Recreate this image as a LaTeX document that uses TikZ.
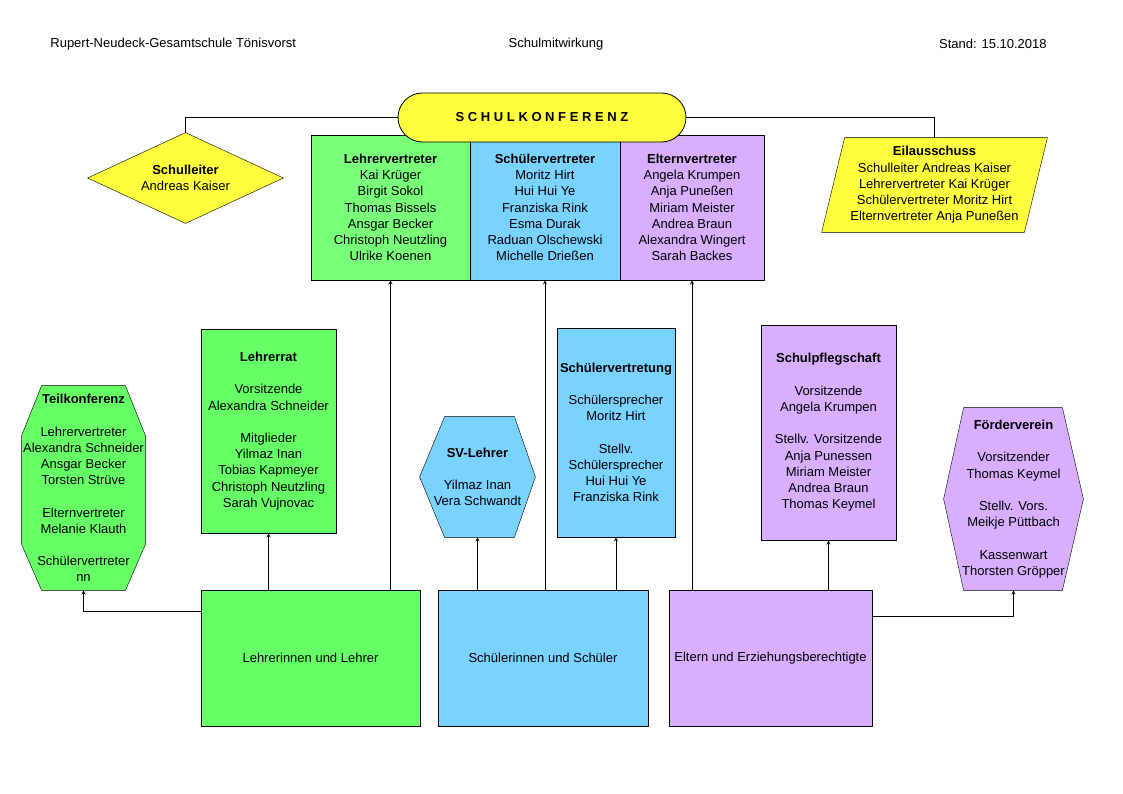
\documentclass[tikz,border=0pt]{standalone}
\usepackage{fontspec}
\setmainfont{Liberation Sans}
\usetikzlibrary{arrows, backgrounds}
\definecolor{gruen}{RGB}{102,255,102}
\definecolor{hellgruen}{RGB}{122,255,122}
\definecolor{blau}{RGB}{122,210,255}
\definecolor{lila}{RGB}{216,174,255}
\definecolor{gelb}{RGB}{255,255,64}
\tikzstyle{arrow} = [->,>=stealth]
\tikzstyle{box} = [draw, align=center, inner sep=0pt]
\tikzstyle{form} = [align=center, inner sep=0pt]
\tikzstyle{kopf} = [inner sep=0pt]

\begin{document}
\begin{tikzpicture}[x=1pt, y=-1pt, line width=0.8pt, font={\fontsize{13}{16.2}\selectfont}]
\useasboundingbox (0,0) rectangle (1123,794);

% Kopfzeile
\node[kopf, anchor=west] (schule) at (50,44) {Rupert-Neudeck-Gesamtschule Tönisvorst};
\node[kopf] (titel) at (556,44) {Schulmitwirkung};
\node[kopf, anchor=east] (stand) at (1047,44) {Stand: 15.10.2018};

% Schulkonferenz
\node[box, fill=hellgruen, minimum width=159pt, minimum height=145pt] (lv) at (390.5,207.5)
  {\textbf{Lehrervertreter}\\Kai Krüger\\Birgit Sokol\\Thomas Bissels\\Ansgar Becker\\Christoph Neutzling\\Ulrike Koenen};
\node[box, fill=blau, minimum width=150pt, minimum height=145pt] (sv) at (545,207.5)
  {\textbf{Schülervertreter}\\Moritz Hirt\\Hui Hui Ye\\Franziska Rink\\Esma Durak\\Raduan Olschewski\\Michelle Drießen};
\node[box, fill=lila, minimum width=144pt, minimum height=145pt] (ev) at (692,207.5)
  {\textbf{Elternvertreter}\\Angela Krumpen\\Anja Puneßen\\Miriam Meister\\Andrea Braun\\Alexandra Wingert\\Sarah Backes};
\node[box, fill=gelb, rounded corners=24.5pt, minimum width=288pt, minimum height=49pt] (sk) at (542,117.5)
  {\textbf{S C H U L K O N F E R E N Z}};

\node[form, minimum width=195pt, minimum height=90pt] (sl) at (185.5,178)
  {\textbf{Schulleiter}\\Andreas Kaiser};
\node[form, minimum width=225pt, minimum height=94pt] (ea) at (934.5,185)
  {\textbf{Eilausschuss}\\Schulleiter Andreas Kaiser\\Lehrervertreter Kai Krüger\\Schülervertreter Moritz Hirt\\Elternvertreter Anja Puneßen};

% Gremien
\node[form, minimum width=123pt, minimum height=204pt] (tk) at (83.5,488)
  {\textbf{Teilkonferenz}\\[16.2pt]Lehrervertreter\\Alexandra Schneider\\Ansgar Becker\\Torsten Strüve\\[16.2pt]Elternvertreter\\Melanie Klauth\\[16.2pt]Schülervertreter\\nn};
\node[box, fill=gruen, minimum width=135pt, minimum height=204pt] (lr) at (268.5,431)
  {\textbf{Lehrerrat}\\[16.2pt]Vorsitzende\\Alexandra Schneider\\[16.2pt]Mitglieder\\Yilmaz Inan\\Tobias Kapmeyer\\Christoph Neutzling\\Sarah Vujnovac};
\node[form, minimum width=115pt, minimum height=120pt] (svl) at (477.5,477)
  {\textbf{SV-Lehrer}\\[16.2pt]Yilmaz Inan\\Vera Schwandt};
\node[box, fill=blau, minimum width=118pt, minimum height=209pt] (svt) at (616,432.5)
  {\textbf{Schülervertretung}\\[16.2pt]Schülersprecher\\Moritz Hirt\\[16.2pt]Stellv.\\Schülersprecher\\Hui Hui Ye\\Franziska Rink};
\node[box, fill=lila, minimum width=135pt, minimum height=215pt] (sp) at (828.5,432.5)
  {\textbf{Schulpflegschaft}\\[16.2pt]Vorsitzende\\Angela Krumpen\\[16.2pt]Stellv. Vorsitzende\\Anja Punessen\\Miriam Meister\\Andrea Braun\\Thomas Keymel};
\node[form, minimum width=139pt, minimum height=182pt] (fv) at (1013.5,499)
  {\textbf{Förderverein}\\[16.2pt]Vorsitzender\\Thomas Keymel\\[16.2pt]Stellv. Vors.\\Meikje Püttbach\\[16.2pt]Kassenwart\\Thorsten Gröpper};

% Gruppen
\node[box, fill=gruen, minimum width=219pt, minimum height=136pt] (ll) at (310.5,658) {Lehrerinnen und Lehrer};
\node[box, fill=blau, minimum width=210pt, minimum height=136pt] (ss) at (543,658) {Schülerinnen und Schüler};
\node[box, fill=lila, minimum width=203pt, minimum height=136pt] (el) at (770.5,658) {Eltern und Erziehungsberechtigte};

% Formen hinter dem Text
\begin{scope}[on background layer]
\draw[fill=gelb] (sl.north) -- (sl.east) -- (sl.south) -- (sl.west) -- cycle;
\draw[fill=gelb] ([xshift=23pt]ea.north west) -- (ea.north east) -- ([xshift=-23pt]ea.south east) -- (ea.south west) -- cycle;
\draw[fill=gruen] ([xshift=20pt]tk.north west) -- ([xshift=-20pt]tk.north east) -- ([yshift=-50pt]tk.north east)
  -- ([yshift=46pt]tk.south east) -- ([xshift=-20pt]tk.south east) -- ([xshift=20pt]tk.south west)
  -- ([yshift=46pt]tk.south west) -- ([yshift=-50pt]tk.north west) -- cycle;
\draw[fill=blau] ([xshift=25pt]svl.north west) -- ([xshift=-21pt]svl.north east) -- (svl.east)
  -- ([xshift=-21pt]svl.south east) -- ([xshift=25pt]svl.south west) -- (svl.west) -- cycle;
\draw[fill=lila] ([xshift=20pt]fv.north west) -- ([xshift=-21pt]fv.north east) -- (fv.east)
  -- ([xshift=-21pt]fv.south east) -- ([xshift=20pt]fv.south west) -- (fv.west) -- cycle;
\end{scope}

% Verbindungen
\draw (sk.west) -| (sl.north);
\draw (sk.east) -| (ea.north);
\draw[arrow] (ll.north -| lv.south) -- (lv.south);
\draw[arrow] (ss.north -| sv.south) -- (sv.south);
\draw[arrow] (el.north -| ev.south) -- (ev.south);
\draw[arrow] (ll.north -| lr.south) -- (lr.south);
\draw[arrow] ([yshift=47pt]ll.west) -| (tk.south);
\draw[arrow] (ss.north -| svl.south) -- (svl.south);
\draw[arrow] (ss.north -| svt.south) -- (svt.south);
\draw[arrow] (el.north -| sp.south) -- (sp.south);
\draw[arrow] ([yshift=42pt]el.east) -| (fv.south);

\end{tikzpicture}
\end{document}
